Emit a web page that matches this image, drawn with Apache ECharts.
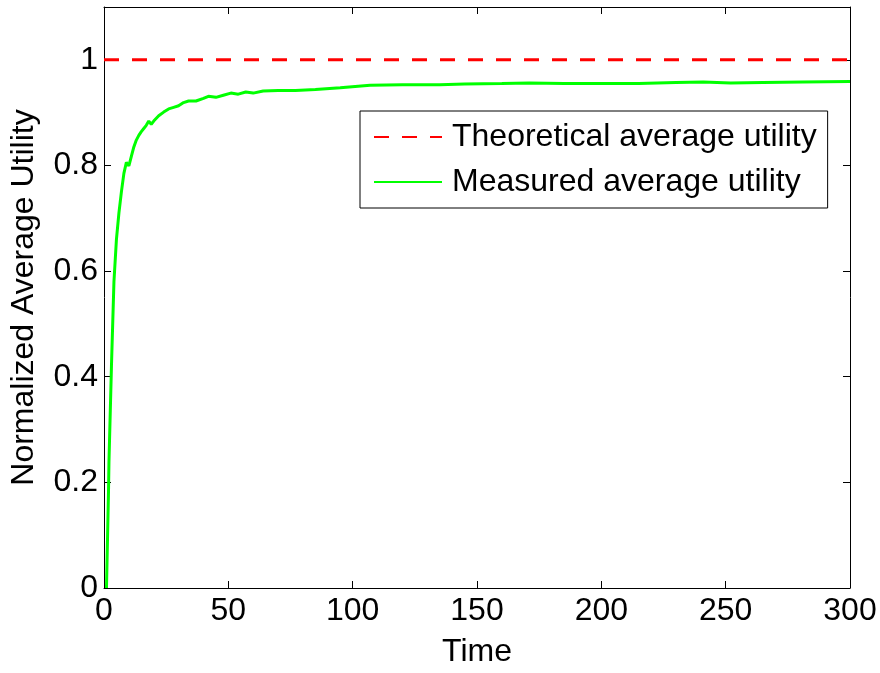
<!DOCTYPE html>
<html>
<head>
<meta charset="utf-8">
<script src="https://cdn.jsdelivr.net/npm/echarts@6/dist/echarts.min.js"></script>
<style>
  html, body { margin: 0; padding: 0; background: #fff; }
  #chart { width: 880px; height: 673px; }
</style>
</head>
<body>
<div id="chart"></div>
<script>
// measured curve
var timeSteps = [1, 1.8, 2, 3, 4, 5, 6, 7, 8, 9, 10, 11, 12, 13, 14, 15, 16, 17, 18, 19, 20,
  22, 24, 26, 28, 30, 32, 34, 37, 40, 42, 45, 48, 51, 54, 57, 60, 64, 70, 77, 85, 95,
  107, 120, 135, 145, 160, 171, 185, 198, 215, 230, 241, 252, 265, 281, 300];
var measured = [0, 0.18, 0.24, 0.42, 0.58, 0.66, 0.71, 0.75, 0.785, 0.806, 0.799, 0.817, 0.835, 0.848, 0.857, 0.864, 0.87, 0.876, 0.884, 0.878, 0.884,
  0.894, 0.901, 0.907, 0.91, 0.913, 0.919, 0.922, 0.922, 0.927, 0.931, 0.929, 0.933, 0.937, 0.935, 0.939, 0.937, 0.941, 0.942, 0.942, 0.944, 0.947,
  0.952, 0.953, 0.953, 0.954, 0.955, 0.956, 0.955, 0.955, 0.955, 0.957, 0.958, 0.956, 0.957, 0.958, 0.959];
var theoryTimes = [0, 300];
var theoretical = [1, 1];
var xTicks = [0, 50, 100, 150, 200, 250, 300];
var yTicks = [0, 0.2, 0.4, 0.6, 0.8, 1];

var font = 'Liberation Sans, Arial, Helvetica, sans-serif';
var fs = 32;
var chart = echarts.init(document.getElementById('chart'));

function pairs(xs, ys) {
  return xs.map(function (x, i) { return [x, ys[i]]; });
}

var axisCommon = {
  axisLine: { show: true, onZero: false, lineStyle: { color: '#000', width: 1 } },
  axisTick: { show: true, inside: true, length: 7, lineStyle: { color: '#000' } },
  splitLine: { show: false }
};

chart.setOption({
  animation: false,
  textStyle: { fontFamily: font },
  grid: { left: 103, right: 30, top: 7, bottom: 80 },
  xAxis: [
    Object.assign({
      type: 'value', min: 0, max: 300, interval: 50, position: 'bottom',
      name: 'Time', nameLocation: 'middle', nameGap: 48,
      nameTextStyle: { fontSize: fs, color: '#000', fontFamily: font },
      axisLabel: { fontSize: fs, color: '#000', margin: 7, fontFamily: font }
    }, axisCommon),
    Object.assign({
      type: 'value', min: 0, max: 300, interval: 50, position: 'top',
      axisLabel: { show: false }
    }, axisCommon)
  ],
  yAxis: [
    Object.assign({
      type: 'value', min: 0, max: 1.1, interval: 0.2, position: 'left',
      name: 'Normalized Average Utility', nameLocation: 'middle', nameGap: 64,
      nameTextStyle: { fontSize: fs, color: '#000', fontFamily: font },
      axisLabel: {
        fontSize: fs, color: '#000', margin: 6, fontFamily: font,
        formatter: function (v) { return yTicks.indexOf(+v.toFixed(1)) >= 0 ? String(+v.toFixed(1)) : ''; }
      }
    }, axisCommon),
    Object.assign({
      type: 'value', min: 0, max: 1.1, interval: 0.2, position: 'right',
      axisLabel: { show: false }
    }, axisCommon)
  ],
  legend: {
    orient: 'vertical',
    left: 360, top: 111,
    padding: [10, 11, 10, 13],
    itemGap: 13,
    itemWidth: 68, itemHeight: 14,
    backgroundColor: '#fff',
    borderColor: '#000', borderWidth: 1,
    itemStyle: { opacity: 0 },
    textStyle: { fontSize: fs, color: '#000', fontFamily: font, padding: [0, 0, 0, 5] },
    data: ['Theoretical average utility', 'Measured average utility']
  },
  series: [
    {
      name: 'Theoretical average utility',
      type: 'line',
      data: pairs(theoryTimes, theoretical),
      showSymbol: false, symbol: 'none',
      lineStyle: { color: '#ff0000', width: 3, type: [15, 13] },
      itemStyle: { color: '#ff0000' },
      z: 3
    },
    {
      name: 'Measured average utility',
      type: 'line',
      data: pairs(timeSteps, measured),
      showSymbol: false, symbol: 'none',
      lineStyle: { color: '#00ff00', width: 3 },
      itemStyle: { color: '#00ff00' },
      z: 2
    }
  ]
});
</script>
</body>
</html>
